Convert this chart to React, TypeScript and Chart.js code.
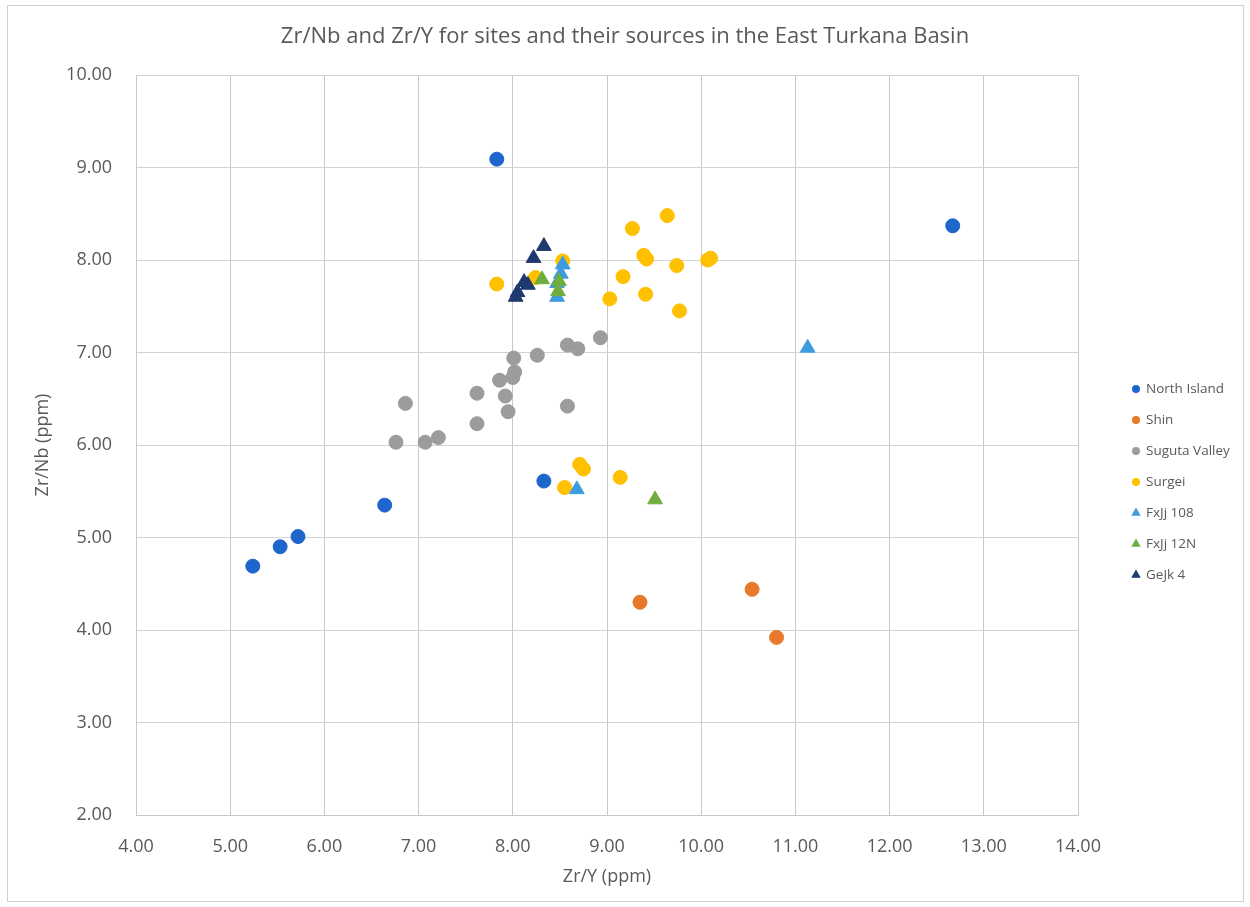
import React, { useEffect, useRef } from "react";
import { Chart, registerables } from "chart.js";

Chart.register(...registerables);

const seriesNames = ["North Island", "Shin", "Suguta Valley", "Surgei", "FxJj 108", "FxJj 12N", "GeJk 4"];
const seriesColors = ["#1f66cc", "#e8782a", "#9c9c9c", "#ffc000", "#3d9be0", "#6fae3e", "#1f3a6e"];
const seriesShapes = ["circle", "circle", "circle", "circle", "triangle", "triangle", "triangle"];

const northIsland = [
  { x: 7.83, y: 9.09 }, { x: 12.67, y: 8.37 }, { x: 5.24, y: 4.69 }, { x: 5.53, y: 4.9 },
  { x: 5.72, y: 5.01 }, { x: 6.64, y: 5.35 }, { x: 8.33, y: 5.61 },
];
const shin = [{ x: 9.35, y: 4.3 }, { x: 10.54, y: 4.44 }, { x: 10.8, y: 3.92 }];
const sugutaValley = [
  { x: 8.93, y: 7.16 }, { x: 8.58, y: 7.08 }, { x: 8.69, y: 7.04 }, { x: 8.26, y: 6.97 },
  { x: 8.01, y: 6.94 }, { x: 8.02, y: 6.79 }, { x: 7.86, y: 6.7 }, { x: 8.0, y: 6.73 },
  { x: 7.92, y: 6.53 }, { x: 7.95, y: 6.36 }, { x: 7.62, y: 6.56 }, { x: 7.62, y: 6.23 },
  { x: 8.58, y: 6.42 }, { x: 6.86, y: 6.45 }, { x: 6.76, y: 6.03 }, { x: 7.07, y: 6.03 },
  { x: 7.21, y: 6.08 },
];
const surgei = [
  { x: 9.27, y: 8.34 }, { x: 9.64, y: 8.48 }, { x: 9.39, y: 8.05 }, { x: 9.42, y: 8.01 },
  { x: 9.74, y: 7.94 }, { x: 10.07, y: 8.0 }, { x: 10.1, y: 8.02 }, { x: 9.17, y: 7.82 },
  { x: 9.03, y: 7.58 }, { x: 9.41, y: 7.63 }, { x: 9.77, y: 7.45 }, { x: 7.83, y: 7.74 },
  { x: 8.53, y: 7.99 }, { x: 8.24, y: 7.81 }, { x: 8.71, y: 5.79 }, { x: 8.75, y: 5.74 },
  { x: 8.55, y: 5.54 }, { x: 9.14, y: 5.65 },
];
const fxjj108 = [
  { x: 11.13, y: 7.05 }, { x: 8.68, y: 5.52 }, { x: 8.53, y: 7.95 }, { x: 8.51, y: 7.85 },
  { x: 8.47, y: 7.75 }, { x: 8.47, y: 7.6 },
];
const fxjj12N = [{ x: 9.51, y: 5.41 }, { x: 8.31, y: 7.79 }, { x: 8.48, y: 7.66 }, { x: 8.49, y: 7.77 }];
const geJk4 = [
  { x: 8.33, y: 8.15 }, { x: 8.22, y: 8.02 }, { x: 8.12, y: 7.76 }, { x: 8.16, y: 7.73 },
  { x: 8.03, y: 7.6 }, { x: 8.05, y: 7.65 },
];
const seriesData = [northIsland, shin, sugutaValley, surgei, fxjj108, fxjj12N, geJk4];

const xMin = 4, xMax = 14, xStep = 1;
const yMin = 2, yMax = 10, yStep = 1;

const titleText = "Zr/Nb and Zr/Y for sites and their sources in the East Turkana Basin";
const xTitle = "Zr/Y (ppm)";
const yTitle = "Zr/Nb (ppm)";

const FONT = "'Open Sans', 'DejaVu Sans', sans-serif";
const TEXT = "#595959";

const frameAndLegend = {
  id: "frameAndLegend",
  beforeDraw(chart: any) {
    const ctx = chart.ctx;
    ctx.save();
    ctx.fillStyle = "#ffffff";
    ctx.fillRect(0, 0, chart.width, chart.height);
    ctx.strokeStyle = "#d0d0d0";
    ctx.lineWidth = 1;
    ctx.strokeRect(7.5, 5.5, chart.width - 14, chart.height - 11);
    ctx.restore();
  },
  afterDraw(chart: any) {
    const ctx = chart.ctx;
    ctx.save();
    ctx.font = `13.5px ${FONT}`;
    ctx.textBaseline = "middle";
    ctx.textAlign = "left";
    chart.data.datasets.forEach((ds: any, i: number) => {
      const y = 389 + i * 31;
      const x = 1136;
      ctx.fillStyle = ds.backgroundColor;
      ctx.beginPath();
      if (ds.pointStyle === "triangle") {
        const r = 5.5;
        ctx.moveTo(x, y - r);
        ctx.lineTo(x + r * 0.866, y + r * 0.5);
        ctx.lineTo(x - r * 0.866, y + r * 0.5);
        ctx.closePath();
      } else {
        ctx.arc(x, y, 4, 0, Math.PI * 2);
      }
      ctx.fill();
      ctx.fillStyle = TEXT;
      ctx.fillText(ds.label, 1146, y);
    });
    ctx.restore();
  },
};

export default function App() {
  const ref = useRef<HTMLCanvasElement | null>(null);
  useEffect(() => {
    document.body.style.margin = "0";
    if (!ref.current) return;
    const datasets = seriesNames.map((name, i) => ({
      label: name,
      data: seriesData[i],
      backgroundColor: seriesColors[i],
      borderColor: seriesColors[i],
      pointStyle: seriesShapes[i],
      pointRadius: seriesShapes[i] === "triangle" ? 8.5 : 7,
      pointBorderWidth: 1,
      order: seriesNames.length - i,
    }));
    const chart = new Chart(ref.current, {
      type: "scatter",
      data: { datasets },
      plugins: [frameAndLegend],
      options: {
        responsive: false,
        animation: false,
        layout: { padding: { left: 0, right: 0, top: 0, bottom: 0 } },
        plugins: {
          legend: { display: false },
          tooltip: { enabled: false },
          title: {
            display: true,
            text: titleText,
            color: TEXT,
            font: { family: FONT, size: 22, weight: "normal", lineHeight: 1.2 },
            padding: { top: 24, bottom: 24.6 },
          },
        },
        scales: {
          x: {
            type: "linear",
            min: xMin,
            max: xMax,
            afterFit: (s: any) => { s.height = 92; },
            ticks: {
              stepSize: xStep,
              callback: (v: any) => Number(v).toFixed(2),
              color: TEXT,
              font: { family: FONT, size: 18 },
              padding: 21,
              maxRotation: 0,
            },
            grid: { color: "#c8c8c8", drawTicks: false },
            border: { color: "#c8c8c8" },
            title: {
              display: true,
              text: xTitle,
              color: TEXT,
              font: { family: FONT, size: 18, lineHeight: 1.2 },
              padding: { top: 0, bottom: 19 },
            },
          },
          y: {
            type: "linear",
            min: yMin,
            max: yMax,
            afterFit: (s: any) => { s.width = 136; },
            ticks: {
              stepSize: yStep,
              callback: (v: any) => Number(v).toFixed(2),
              color: TEXT,
              font: { family: FONT, size: 18 },
              padding: 24,
            },
            grid: { color: "#d2d2d2", drawTicks: false },
            border: { color: "#c8c8c8" },
            title: {
              display: true,
              text: yTitle,
              color: TEXT,
              font: { family: FONT, size: 18, lineHeight: 1.2 },
              padding: { top: 32, bottom: 0 },
            },
          },
          legendSpace: {
            type: "linear",
            position: "right",
            display: true,
            afterFit: (s: any) => { s.width = 172; },
            ticks: { display: false },
            grid: { display: false, drawTicks: false },
            border: { display: false },
          },
        },
      },
    });
    return () => chart.destroy();
  }, []);
  return (
    <div style={{ width: 1250, height: 907 }}>
      <canvas ref={ref} width={1250} height={907} style={{ display: "block" }} />
    </div>
  );
}
